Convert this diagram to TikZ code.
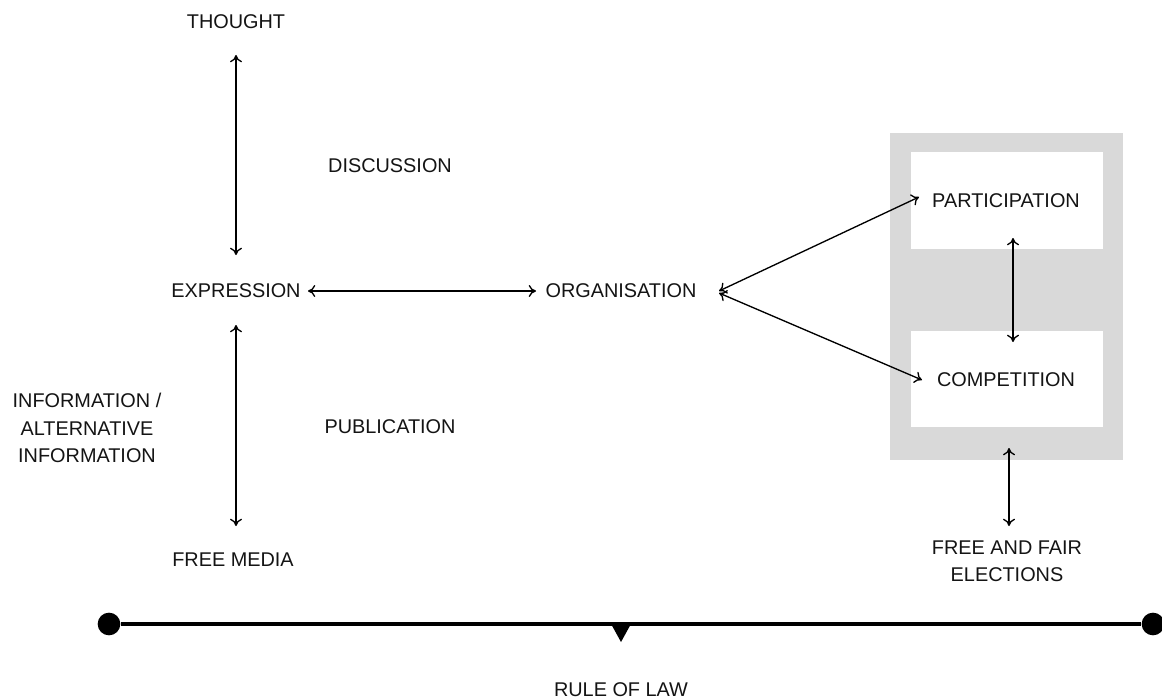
\documentclass[tikz,border=0pt]{standalone}
\usepackage{fontspec}
\setmainfont{Liberation Sans}
\usetikzlibrary{arrows.meta}
\definecolor{panelgrey}{HTML}{D9D9D9}
\begin{document}
\begin{tikzpicture}[x=0.75pt,y=-0.75pt,
  lbl/.style={inner sep=0pt, font=\fontsize{14.9pt}{20.6pt}\selectfont, align=center, text=black!92},
  link/.style={{To[length=5.5pt,width=9pt]}-{To[length=5.5pt,width=9pt]}, line width=1pt},
  dot/.style={circle, fill=black, inner sep=0pt, minimum size=17pt}]
\useasboundingbox (0,0) rectangle (1162,699);

% grey panel holding the two white slots
\fill[panelgrey] (890,133) rectangle (1123,460);
\fill[white] (911,152) rectangle (1103,249);
\fill[white] (911,331) rectangle (1103,427);

% labels
\node[lbl] (thought) at (236,22) {THOUGHT};
\node[lbl] (discussion) at (390,166) {DISCUSSION};
\node[lbl] (expression) at (236,291) {EXPRESSION};
\node[lbl] (organisation) at (621,291) {ORGANISATION};
\node[lbl] (participation) at (1006,201) {PARTICIPATION};
\node[lbl] (competition) at (1006,380) {COMPETITION};
\node[lbl] (information) at (87,428) {INFORMATION /\\ALTERNATIVE\\INFORMATION};
\node[lbl] (publication) at (390,427) {PUBLICATION};
\node[lbl] (freemedia) at (233,560) {FREE MEDIA};
\node[lbl] (elections) at (1007,561) {FREE AND FAIR\\ELECTIONS};
\node[lbl] (rulelaw) at (621,690) {RULE OF LAW};

% two-way links
\draw[link] ([shift={(0,33)}]thought.center) -- ([shift={(0,-36)}]expression.center);
\draw[link] ([shift={(0,34)}]expression.center) -- ([shift={(3,-34)}]freemedia.center);
\draw[link] ([shift={(72,0)}]expression.center) -- ([shift={(-85,0)}]organisation.center);
\draw[link] ([shift={(98,0)}]organisation.center) -- ([shift={(-87,-4)}]participation.center);
\draw[link] ([shift={(98,2)}]organisation.center) -- ([shift={(-84,0)}]competition.center);
\draw[link] ([shift={(7,37)}]participation.center) -- ([shift={(7,-38)}]competition.center);
\draw[link] ([shift={(3,68)}]competition.center) -- ([shift={(2,-35)}]elections.center);

% rule of law bar
\node[dot] (lawstart) at (109,624) {};
\node[dot] (lawend) at (1153,624) {};
\draw[line width=3pt] (lawstart) -- (lawend);
\fill (610,622) -- (632,622) -- (621,642) -- cycle;
\end{tikzpicture}
\end{document}
